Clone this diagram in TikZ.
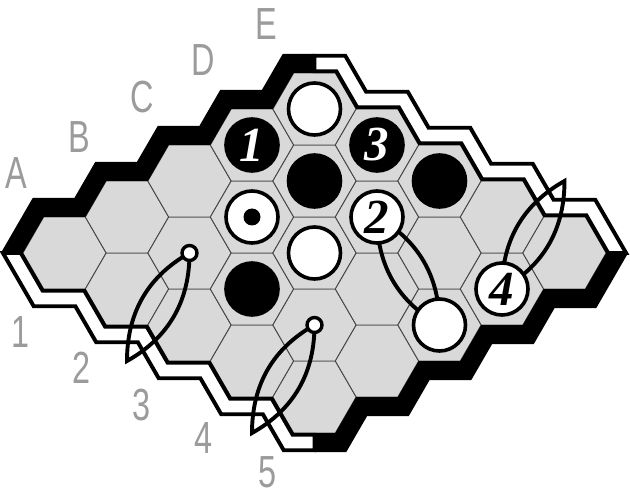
\documentclass[tikz,border=0pt]{standalone}
\usepackage{fontspec}
\usepackage{graphicx}
\setmainfont{Liberation Serif}
\newfontfamily\labfont{Liberation Sans}
\definecolor{cellgray}{RGB}{217,217,217}
\definecolor{gridline}{RGB}{70,70,70}
\definecolor{labgray}{RGB}{155,155,155}
\begin{document}
\begin{tikzpicture}[x=1pt,y=-1pt,
  cell/.style={fill=cellgray, draw=gridline, line width=0.9pt, line join=miter},
  bband/.style={fill=black},
  wband/.style={fill=white, draw=black, line width=3.9pt, line join=miter},
  link/.style={draw=black, line width=3.9pt, line join=miter},
  stone/.style={circle, draw=black, line width=3.6pt, minimum size=52pt, inner sep=0pt},
  bstone/.style={stone, fill=black, text=white},
  wstone/.style={stone, fill=white, text=black},
  num/.style={font=\fontsize{49}{49}\selectfont\bfseries\itshape},
  dotmark/.style={circle, draw=black, fill=white, line width=3.4pt, minimum size=15pt, inner sep=0pt},
  innerdot/.style={circle, fill=black, minimum size=17pt, inner sep=0pt},
  lab/.style={text=labgray, font=\labfont\fontsize{45}{45}\selectfont, inner sep=0pt}
]
\useasboundingbox (0,0) rectangle (630,500);
\fill[white] (0,0) rectangle (630,500);

% cells
\foreach \c in {0,...,4}{
  \foreach \r in {0,...,4}{
    \pgfmathsetmacro\cx{64.5+62.5*(\c+\r)}
    \pgfmathsetmacro\cy{253+36*(\r-\c)}
    \draw[cell] (\cx-41.67,\cy) -- (\cx-20.83,\cy-36) -- (\cx+20.83,\cy-36) -- (\cx+41.67,\cy) -- (\cx+20.83,\cy+36) -- (\cx-20.83,\cy+36) -- cycle;
  }
}

% black bands
\fill[bband] (22.83,253) -- (43.67,217) -- (85.33,217) -- (106.17,181) -- (147.83,181) -- (168.67,145) -- (210.33,145) -- (231.17,109) -- (272.83,109) -- (293.67,73) -- (314.5,73) -- (314.5,54) -- (282.70,54) -- (261.86,90) -- (220.20,90) -- (199.36,126) -- (157.70,126) -- (136.86,162) -- (95.20,162) -- (74.36,198) -- (32.70,198) -- (0.89,253) -- cycle;
\fill[bband] (314.5,433) -- (335.33,433) -- (356.17,397) -- (397.83,397) -- (418.67,361) -- (460.33,361) -- (481.17,325) -- (522.83,325) -- (543.67,289) -- (585.33,289) -- (606.17,253) -- (628.11,253) -- (596.30,308) -- (554.64,308) -- (533.80,344) -- (492.14,344) -- (471.30,380) -- (429.64,380) -- (408.80,416) -- (367.14,416) -- (346.30,452) -- (314.5,452) -- cycle;

% white bands
\draw[wband] (314.5,71.25) -- (336.34,71.25) -- (357.18,107.25) -- (398.84,107.25) -- (419.68,143.25) -- (461.34,143.25) -- (482.18,179.25) -- (523.84,179.25) -- (544.68,215.25) -- (586.34,215.25) -- (608.19,253) -- (626.09,253) -- (595.28,199.75) -- (553.62,199.75) -- (532.78,163.75) -- (491.12,163.75) -- (470.28,127.75) -- (428.62,127.75) -- (407.78,91.75) -- (366.12,91.75) -- (345.28,55.75) -- (314.5,55.75) -- cycle;
\draw[wband] (20.81,253) -- (42.66,290.75) -- (84.32,290.75) -- (105.16,326.75) -- (146.82,326.75) -- (167.66,362.75) -- (209.32,362.75) -- (230.16,398.75) -- (271.82,398.75) -- (292.66,434.75) -- (314.5,434.75) -- (314.5,450.25) -- (283.72,450.25) -- (262.88,414.25) -- (221.22,414.25) -- (200.38,378.25) -- (158.72,378.25) -- (137.88,342.25) -- (96.22,342.25) -- (75.38,306.25) -- (33.72,306.25) -- (2.91,253) -- cycle;

% cell centres
\coordinate (E1) at (314.5,109);
\coordinate (D1) at (252,145);
\coordinate (E2) at (377,145);
\coordinate (D2) at (314.5,181);
\coordinate (E3) at (439.5,181);
\coordinate (C2) at (252,217);
\coordinate (D3) at (377,217);
\coordinate (C3) at (314.5,253);
\coordinate (B3) at (252,289);
\coordinate (C5) at (439.5,325);
\coordinate (D5) at (502,289);
\coordinate (B2) at (189.5,253);
\coordinate (B4) at (314.5,325);
\coordinate (tA) at (127,361);
\coordinate (tB) at (252,433);
\coordinate (tC) at (564.5,181);

% links
\draw[link] (B2) .. controls +(-44.5,25) and +(0,-45) .. (tA) .. controls +(44.5,-25) and +(0,45) .. (B2);
\draw[link] (B4) .. controls +(-44.5,25) and +(0,-45) .. (tB) .. controls +(44.5,-25) and +(0,45) .. (B4);
\draw[link] (D3) .. controls +(44.5,25) and +(0,-45) .. (C5) .. controls +(-44.5,-25) and +(0,45) .. (D3);
\draw[link] (D5) .. controls +(44.5,-25) and +(0,45) .. (tC) .. controls +(-44.5,25) and +(0,-45) .. (D5);

% stones
\node[wstone] (sE1) at (E1) {};
\node[bstone,num] (sD1) at (D1) {1};
\node[bstone,num] (sE2) at (E2) {3};
\node[bstone] (sD2) at (D2) {};
\node[bstone] (sE3) at (E3) {};
\node[wstone] (sC2) at (C2) {};
\node[innerdot] (dC2) at (C2) {};
\node[wstone,num] (sD3) at (D3) {2};
\node[wstone] (sC3) at (C3) {};
\node[bstone] (sB3) at (B3) {};
\node[wstone] (sC5) at (C5) {};
\node[wstone,num] (sD5) at (D5) {4};
\node[dotmark] (mB2) at (B2) {};
\node[dotmark] (mB4) at (B4) {};

% labels
\node[lab] (lA) at (16,173) {\scalebox{0.72}[1]{A}};
\node[lab] (lB) at (79,137) {\scalebox{0.72}[1]{B}};
\node[lab] (lC) at (142,97) {\scalebox{0.72}[1]{C}};
\node[lab] (lD) at (203,60) {\scalebox{0.72}[1]{D}};
\node[lab] (lE) at (266,24) {\scalebox{0.72}[1]{E}};
\node[lab] (l1) at (21,332) {\scalebox{0.72}[1]{1}};
\node[lab] (l2) at (82,368) {\scalebox{0.72}[1]{2}};
\node[lab] (l3) at (142,405) {\scalebox{0.72}[1]{3}};
\node[lab] (l4) at (204,438) {\scalebox{0.72}[1]{4}};
\node[lab] (l5) at (268,472) {\scalebox{0.72}[1]{5}};
\end{tikzpicture}
\end{document}
